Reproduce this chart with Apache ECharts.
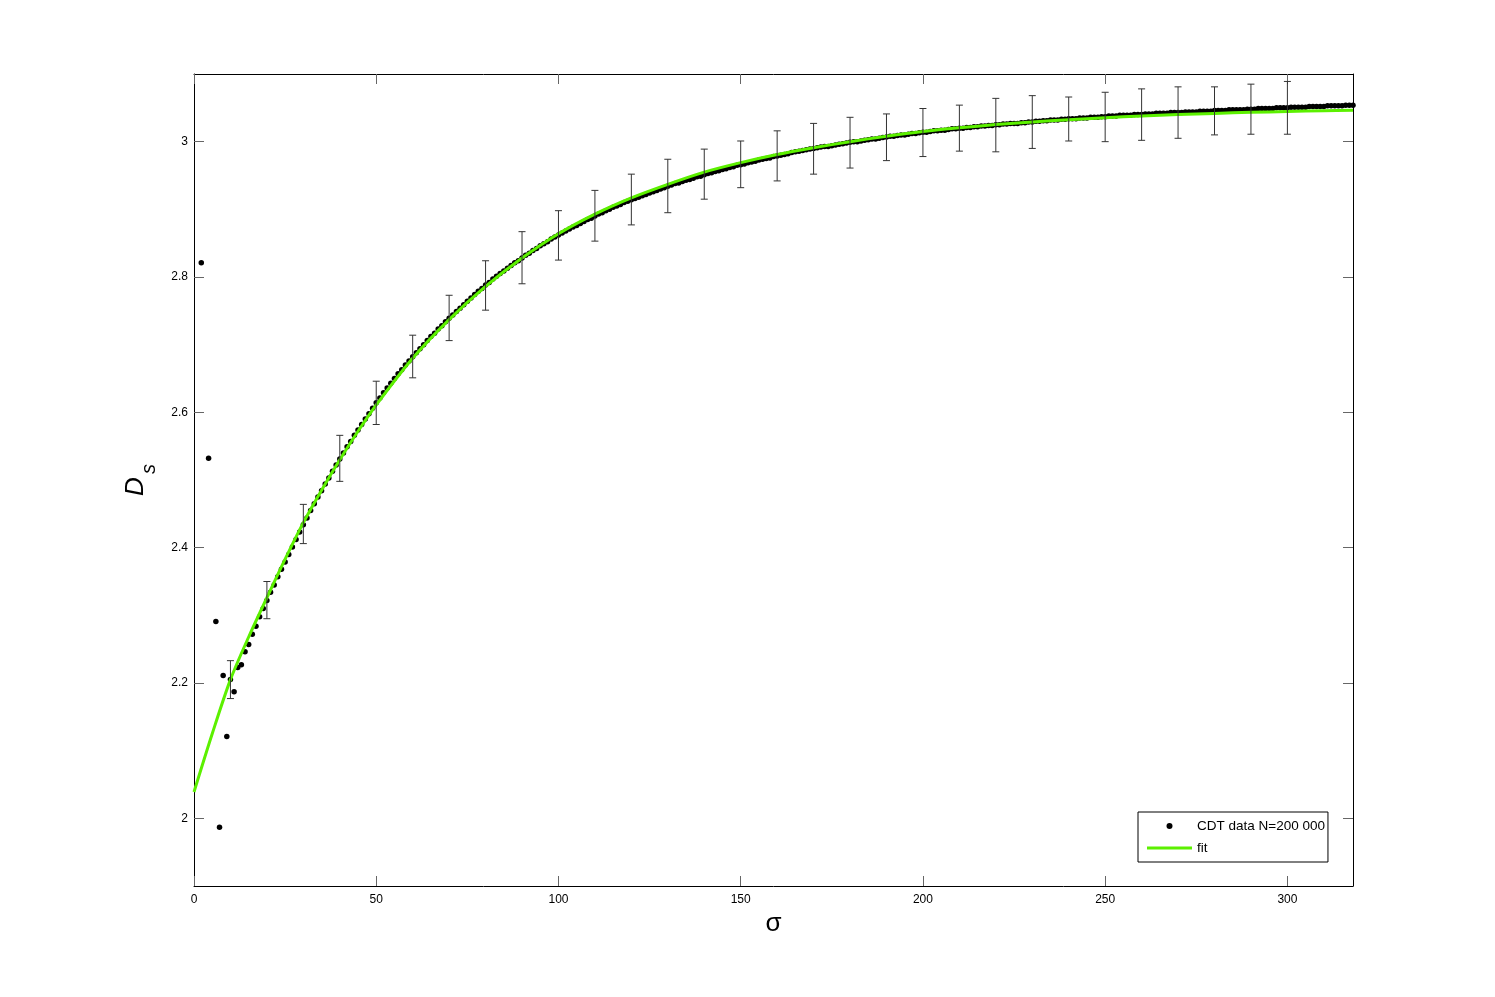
<!DOCTYPE html>
<html>
<head>
<meta charset="utf-8">
<script src="https://cdn.jsdelivr.net/npm/echarts@6/dist/echarts.min.js"></script>
<style>
  html, body { margin: 0; padding: 0; background: #fff; }
  #chart { width: 1495px; height: 997px; }
</style>
</head>
<body>
<div id="chart"></div>
<script>
// CDT data, mean Ds for each sigma
var sigmaData = [
  2, 4, 6, 7, 8, 9, 10, 11, 12, 13, 14, 15, 16, 17, 18, 19, 20,
  21, 22, 23, 24, 25, 26, 27, 28, 29, 30,
  31, 32, 33, 34, 35, 36, 37, 38, 39, 40,
  41, 42, 43, 44, 45, 46, 47, 48, 49, 50,
  51, 52, 53, 54, 55, 56, 57, 58, 59, 60,
  61, 62, 63, 64, 65, 66, 67, 68, 69, 70,
  71, 72, 73, 74, 75, 76, 77, 78, 79, 80,
  81, 82, 83, 84, 85, 86, 87, 88, 89, 90,
  91, 92, 93, 94, 95, 96, 97, 98, 99, 100,
  101, 102, 103, 104, 105, 106, 107, 108, 109, 110,
  111, 112, 113, 114, 115, 116, 117, 118, 119, 120,
  121, 122, 123, 124, 125, 126, 127, 128, 129, 130,
  131, 132, 133, 134, 135, 136, 137, 138, 139, 140,
  141, 142, 143, 144, 145, 146, 147, 148, 149, 150,
  151, 152, 153, 154, 155, 156, 157, 158, 159, 160,
  161, 162, 163, 164, 165, 166, 167, 168, 169, 170,
  171, 172, 173, 174, 175, 176, 177, 178, 179, 180,
  181, 182, 183, 184, 185, 186, 187, 188, 189, 190,
  191, 192, 193, 194, 195, 196, 197, 198, 199, 200,
  201, 202, 203, 204, 205, 206, 207, 208, 209, 210,
  211, 212, 213, 214, 215, 216, 217, 218, 219, 220,
  221, 222, 223, 224, 225, 226, 227, 228, 229, 230,
  231, 232, 233, 234, 235, 236, 237, 238, 239, 240,
  241, 242, 243, 244, 245, 246, 247, 248, 249, 250,
  251, 252, 253, 254, 255, 256, 257, 258, 259, 260,
  261, 262, 263, 264, 265, 266, 267, 268, 269, 270,
  271, 272, 273, 274, 275, 276, 277, 278, 279, 280,
  281, 282, 283, 284, 285, 286, 287, 288, 289, 290,
  291, 292, 293, 294, 295, 296, 297, 298, 299, 300,
  301, 302, 303, 304, 305, 306, 307, 308, 309, 310,
  311, 312, 313, 314, 315, 316, 317, 318
];
var dsData = [
  2.821, 2.532, 2.291, 1.987, 2.211, 2.121, 2.205, 2.187, 2.223, 2.227, 2.246, 2.257, 2.272, 2.284, 2.298, 2.310, 2.322,
  2.334, 2.345, 2.357, 2.368, 2.379, 2.390, 2.401, 2.412, 2.423, 2.434,
  2.444, 2.455, 2.465, 2.475, 2.484, 2.494, 2.503, 2.513, 2.522, 2.531,
  2.540, 2.549, 2.557, 2.566, 2.574, 2.582, 2.590, 2.598, 2.606, 2.614,
  2.621, 2.629, 2.636, 2.643, 2.650, 2.657, 2.663, 2.670, 2.676, 2.682,
  2.688, 2.694, 2.700, 2.706, 2.712, 2.717, 2.723, 2.728, 2.734, 2.739,
  2.744, 2.749, 2.754, 2.759, 2.764, 2.769, 2.774, 2.779, 2.783, 2.788,
  2.792, 2.797, 2.801, 2.805, 2.809, 2.813, 2.817, 2.821, 2.824, 2.828,
  2.832, 2.835, 2.839, 2.842, 2.846, 2.849, 2.852, 2.856, 2.859, 2.862,
  2.865, 2.868, 2.871, 2.874, 2.876, 2.879, 2.882, 2.885, 2.887, 2.890,
  2.893, 2.895, 2.898, 2.900, 2.903, 2.905, 2.907, 2.910, 2.912, 2.914,
  2.916, 2.918, 2.920, 2.922, 2.924, 2.926, 2.928, 2.930, 2.932, 2.934,
  2.936, 2.938, 2.939, 2.941, 2.943, 2.944, 2.946, 2.948, 2.949, 2.951,
  2.953, 2.954, 2.956, 2.957, 2.959, 2.960, 2.962, 2.963, 2.965, 2.966,
  2.967, 2.969, 2.970, 2.971, 2.973, 2.974, 2.975, 2.976, 2.978, 2.979,
  2.980, 2.981, 2.982, 2.984, 2.985, 2.986, 2.987, 2.988, 2.989, 2.990,
  2.991, 2.992, 2.993, 2.993, 2.994, 2.995, 2.996, 2.997, 2.998, 2.999,
  3.000, 3.000, 3.001, 3.002, 3.003, 3.004, 3.004, 3.005, 3.006, 3.007,
  3.008, 3.008, 3.009, 3.010, 3.010, 3.011, 3.012, 3.012, 3.013, 3.014,
  3.014, 3.015, 3.016, 3.016, 3.017, 3.017, 3.018, 3.019, 3.019, 3.020,
  3.020, 3.021, 3.021, 3.022, 3.022, 3.023, 3.023, 3.024, 3.024, 3.025,
  3.025, 3.026, 3.026, 3.027, 3.027, 3.027, 3.028, 3.028, 3.029, 3.029,
  3.030, 3.030, 3.031, 3.031, 3.032, 3.032, 3.032, 3.033, 3.033, 3.034,
  3.034, 3.034, 3.035, 3.035, 3.035, 3.036, 3.036, 3.036, 3.037, 3.037,
  3.038, 3.038, 3.038, 3.039, 3.039, 3.039, 3.039, 3.040, 3.040, 3.040,
  3.041, 3.041, 3.041, 3.042, 3.042, 3.042, 3.042, 3.043, 3.043, 3.043,
  3.043, 3.044, 3.044, 3.044, 3.044, 3.045, 3.045, 3.045, 3.045, 3.046,
  3.046, 3.046, 3.046, 3.047, 3.047, 3.047, 3.047, 3.047, 3.048, 3.048,
  3.048, 3.049, 3.049, 3.049, 3.049, 3.049, 3.050, 3.050, 3.050, 3.050,
  3.051, 3.051, 3.051, 3.051, 3.051, 3.052, 3.052, 3.052, 3.052, 3.052,
  3.053, 3.053, 3.053, 3.053, 3.053, 3.054, 3.054, 3.054
];

// error bars every 10
var barSigma = [10, 20, 30, 40, 50, 60, 70, 80, 90, 100, 110, 120, 130, 140, 150,
  160, 170, 180, 190, 200, 210, 220, 230, 240, 250, 260, 270, 280, 290, 300];
var barHigh = [2.233, 2.350, 2.464, 2.566, 2.646, 2.714, 2.773, 2.824, 2.867, 2.898,
  2.928, 2.952, 2.974, 2.989, 3.001, 3.016, 3.027, 3.036, 3.041, 3.049,
  3.054, 3.064, 3.068, 3.066, 3.073, 3.078, 3.081, 3.081, 3.085, 3.089];
var barLow = [2.177, 2.295, 2.406, 2.498, 2.582, 2.651, 2.706, 2.751, 2.790, 2.825,
  2.853, 2.877, 2.895, 2.915, 2.932, 2.942, 2.952, 2.961, 2.972, 2.978,
  2.986, 2.985, 2.990, 3.001, 3.000, 3.002, 3.005, 3.010, 3.011, 3.011];

// fit curve
var fitSigma = [0, 5, 10, 15, 20, 25, 30, 35, 40, 45, 50, 60, 70, 80, 90, 100,
  110, 120, 130, 140, 150, 160, 170, 180, 190, 200, 210, 220, 230, 240, 250,
  260, 270, 280, 290, 300, 310, 318];
var fitDs = [2.039, 2.125, 2.205, 2.268, 2.326, 2.383, 2.437, 2.485, 2.530, 2.572, 2.611,
  2.680, 2.737, 2.786, 2.828, 2.864, 2.893, 2.917, 2.937, 2.955, 2.969,
  2.981, 2.991, 3.000, 3.008, 3.015, 3.0205, 3.0252, 3.0291, 3.0325, 3.0354,
  3.0379, 3.0400, 3.0418, 3.0433, 3.0446, 3.0457, 3.0465];

var xTicks = [0, 50, 100, 150, 200, 250, 300];
var yTicks = [2, 2.2, 2.4, 2.6, 2.8, 3];

var dataName = 'CDT data N=200 000';
var fitName = 'fit';

var chart = echarts.init(document.getElementById('chart'));

var dotPoints = sigmaData.map(function (s, i) { return [s, dsData[i]]; });
var fitPoints = fitSigma.map(function (s, i) { return [s, fitDs[i]]; });
var barPoints = barSigma.map(function (s, i) { return [s, barLow[i], barHigh[i]]; });

var font = 'Liberation Sans, Arial, sans-serif';
var green = '#5cf000';

function xAxisCfg(pos, showLabel) {
  return {
    type: 'value',
    position: pos,
    min: 0,
    max: 318,
    axisLine: { show: true, onZero: false, lineStyle: { color: '#000', width: 1 } },
    axisTick: { show: true, inside: true, length: 10, customValues: xTicks, lineStyle: { color: '#666' } },
    axisLabel: { show: showLabel, customValues: xTicks, color: '#000', fontSize: 12, fontFamily: font, margin: 8 },
    splitLine: { show: false }
  };
}
function yAxisCfg(pos, showLabel) {
  return {
    type: 'value',
    position: pos,
    min: 1.9,
    max: 3.1,
    axisLine: { show: true, onZero: false, lineStyle: { color: '#000', width: 1 } },
    axisTick: { show: true, inside: true, length: 10, customValues: yTicks, lineStyle: { color: '#666' } },
    axisLabel: { show: showLabel, customValues: yTicks, color: '#000', fontSize: 12, fontFamily: font, margin: 6 },
    splitLine: { show: false }
  };
}

var xBottom = xAxisCfg('bottom', true);
xBottom.name = 'σ';
xBottom.nameLocation = 'middle';
xBottom.nameGap = 24;
xBottom.nameTextStyle = { fontSize: 26, fontFamily: font, color: '#000' };

var yLeft = yAxisCfg('left', true);
yLeft.name = '{d|D}{s|s}';
yLeft.nameLocation = 'middle';
yLeft.nameGap = 44;
yLeft.nameRotate = 90;
yLeft.nameTextStyle = {
  color: '#000',
  rich: {
    d: { fontSize: 26, fontStyle: 'italic', fontFamily: font, color: '#000', lineHeight: 28 },
    s: { fontSize: 20, fontStyle: 'italic', fontFamily: font, color: '#000', lineHeight: 28, padding: [26, 0, 0, 3] }
  }
};

var option = {
  backgroundColor: '#fff',
  animation: false,
  grid: { left: 194, top: 74, width: 1159, height: 812, containLabel: false, outerBoundsMode: 'none' },
  xAxis: [xBottom, xAxisCfg('top', false)],
  yAxis: [yLeft, yAxisCfg('right', false)],
  legend: {
    left: 1138,
    top: 812,
    orient: 'vertical',
    data: [
      { name: dataName, icon: 'circle' },
      { name: fitName, icon: 'path://M0,0L45,0L45,3L0,3Z', itemStyle: { color: green } }
    ],
    itemWidth: 45,
    itemHeight: 6,
    itemGap: 8,
    padding: [7, 3, 7, 9],
    borderColor: '#000',
    borderWidth: 1,
    borderRadius: 0,
    backgroundColor: '#fff',
    selectedMode: false,
    textStyle: { fontSize: 13.5, fontFamily: font, color: '#000', padding: [0, 0, 0, 0] }
  },
  series: [
    {
      name: dataName,
      type: 'scatter',
      data: dotPoints,
      symbol: 'circle',
      symbolSize: 5.5,
      itemStyle: { color: '#000', opacity: 1 },
      z: 2
    },
    {
      name: fitName,
      type: 'line',
      data: fitPoints,
      smooth: 0.3,
      showSymbol: false,
      symbol: 'none',
      lineStyle: { color: green, width: 3 },
      itemStyle: { color: green },
      z: 3
    },
    {
      name: 'errorbars',
      type: 'custom',
      data: barPoints,
      encode: { x: 0, y: [1, 2] },
      z: 4,
      renderItem: function (params, api) {
        var x = api.value(0);
        var top = api.coord([x, api.value(2)]);
        var bottom = api.coord([x, api.value(1)]);
        var w = 3.5;
        var st = { stroke: '#333', lineWidth: 1 };
        return {
          type: 'group',
          children: [
            { type: 'line', shape: { x1: top[0], y1: top[1], x2: bottom[0], y2: bottom[1] }, style: st },
            { type: 'line', shape: { x1: top[0] - w, y1: top[1], x2: top[0] + w, y2: top[1] }, style: st },
            { type: 'line', shape: { x1: bottom[0] - w, y1: bottom[1], x2: bottom[0] + w, y2: bottom[1] }, style: st }
          ]
        };
      }
    }
  ]
};

chart.setOption(option);
</script>
</body>
</html>
